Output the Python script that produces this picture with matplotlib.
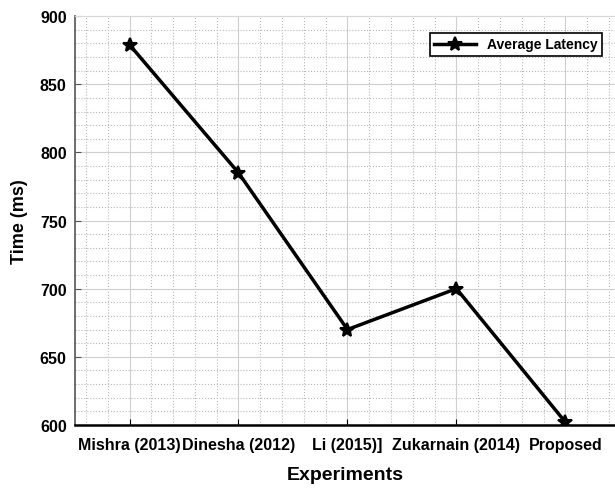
import matplotlib.pyplot as plt
from matplotlib.ticker import MultipleLocator

# data
experiments = ['Mishra (2013)', 'Dinesha (2012)', 'Li (2015)]', 'Zukarnain (2014)', 'Proposed']
positions = [1, 2, 3, 4, 5]
latency = [879, 785, 670, 700, 602]

plt.rcParams.update({
    'font.family': ['Liberation Sans', 'DejaVu Sans'],
    'font.weight': 'bold',
})

fig = plt.figure(figsize=(6.15, 4.89), dpi=100)
ax = fig.add_axes([0.122, 0.129, 0.878, 0.836])

ax.plot(positions, latency,
        color='black',
        linewidth=2.5,
        marker='*',
        markersize=10,
        markeredgewidth=1.5,
        label='Average Latency')

ax.set_xlim(0.5, 5.455)
ax.set_ylim(600, 900)
ax.set_xticks(positions)
ax.set_xticklabels(experiments, fontsize=11.5, fontweight='bold')
ax.set_yticks([600, 650, 700, 750, 800, 850, 900])
ax.tick_params(axis='y', labelsize=11.5, direction='in', length=4, color='#555555', pad=6)
ax.tick_params(axis='x', direction='in', length=4, pad=9)
ax.xaxis.set_minor_locator(MultipleLocator(0.2))
ax.yaxis.set_minor_locator(MultipleLocator(10))
ax.tick_params(which='minor', length=0)
for lbl in ax.get_yticklabels():
    lbl.set_fontweight('bold')

ax.grid(True, which='major', color='#cfcfcf', linestyle='-', linewidth=0.8)
ax.grid(True, which='minor', color='#b8b8b8', linestyle=':', linewidth=0.8)
ax.set_axisbelow(True)

ax.spines['top'].set_color('#d8d8d8')
ax.spines['right'].set_visible(False)
ax.spines['left'].set_color('#555555')
ax.spines['left'].set_linewidth(1.2)
ax.spines['bottom'].set_color('black')
ax.spines['bottom'].set_linewidth(1.8)

ax.set_xlabel('Experiments', fontsize=14, fontweight='bold', labelpad=10)
ax.set_ylabel('Time (ms)', fontsize=13, fontweight='bold')
ax.yaxis.set_label_coords(-0.088, 0.5)

leg = ax.legend(loc='upper right', prop={'weight': 'bold', 'size': 10},
                frameon=True, fancybox=False, framealpha=1,
                edgecolor='black', borderpad=0.3, handlelength=3,
                bbox_to_anchor=(0.988, 0.975))
leg.get_frame().set_linewidth(1.2)

fig.savefig('out.png', dpi=100, facecolor='white')
